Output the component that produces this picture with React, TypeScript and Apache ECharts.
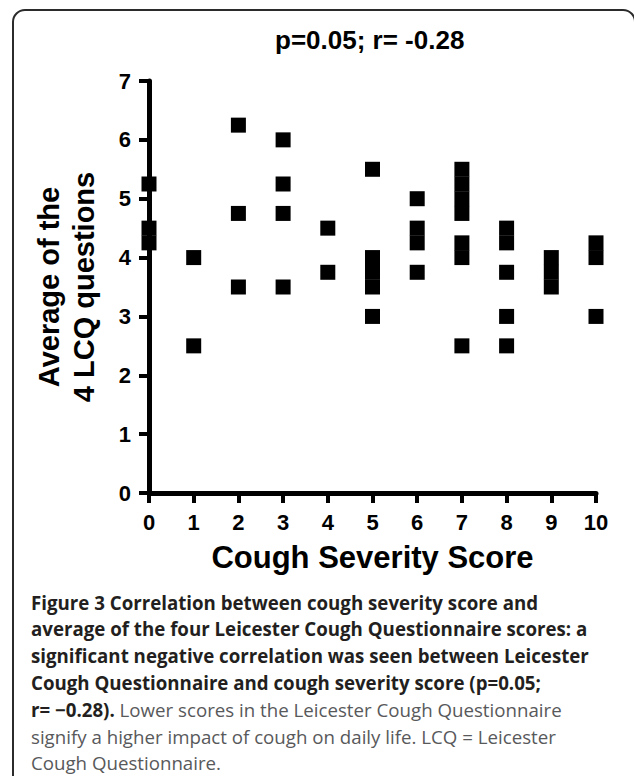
import React, { useEffect, useRef } from "react";
import * as echarts from "echarts";

// ---- data ----
const chartTitle = "p=0.05; r= -0.28";
const xAxisTitle = "Cough Severity Score";
const yAxisTitle = "Average of the\n4 LCQ questions";

const xMin = 0;
const xMax = 10;
const yMin = 0;
const yMax = 7;

// each point: cough severity score (x) and average of the 4 LCQ questions (y)
const severityScores = [
  0, 0, 0,
  1, 1,
  2, 2, 2,
  3, 3, 3, 3,
  4, 4,
  5, 5, 5, 5, 5,
  6, 6, 6, 6,
  7, 7, 7, 7, 7, 7, 7,
  8, 8, 8, 8, 8,
  9, 9, 9,
  10, 10, 10,
];
const lcqAverages = [
  5.25, 4.5, 4.25,
  4.0, 2.5,
  6.25, 4.75, 3.5,
  6.0, 5.25, 4.75, 3.5,
  4.5, 3.75,
  5.5, 4.0, 3.75, 3.5, 3.0,
  5.0, 4.5, 4.25, 3.75,
  5.5, 5.25, 5.0, 4.75, 4.25, 4.0, 2.5,
  4.5, 4.25, 3.75, 3.0, 2.5,
  4.0, 3.75, 3.5,
  4.25, 4.0, 3.0,
];

// caption lines: [bold part, regular part]
const captionLines: [string, string][] = [
  ["Figure 3 Correlation between cough severity score and", ""],
  ["average of the four Leicester Cough Questionnaire scores: a", ""],
  ["significant negative correlation was seen between Leicester", ""],
  ["Cough Questionnaire and cough severity score (p=0.05;", ""],
  ["r= \u22120.28).", " Lower scores in the Leicester Cough Questionnaire"],
  ["", "signify a higher impact of cough on daily life. LCQ = Leicester"],
  ["", "Cough Questionnaire."],
];

const ARIAL = "'Liberation Sans', Arial, Helvetica, sans-serif";
const CAPTION_FONT = "'Open Sans', 'Noto Sans', sans-serif";

export default function App() {
  const ref = useRef<HTMLDivElement>(null);

  useEffect(() => {
    if (!ref.current) return;
    const chart = echarts.init(ref.current, undefined, { renderer: "svg" });

    const points = severityScores.map((x, i) => [x, lcqAverages[i]]);

    const captionTop = 602;
    const captionStep = 26.8;
    const captionElements = captionLines.map(([b, r], i) => {
      let text = "";
      if (b) text += "{b|" + b + "}";
      if (r) text += "{r|" + r + "}";
      return {
        type: "text",
        x: 31,
        y: captionTop + i * captionStep,
        style: {
          text,
          verticalAlign: "middle",
          align: "left",
          rich: {
            b: {
              fontFamily: CAPTION_FONT,
              fontWeight: "bold",
              fontSize: 18.7,
              fill: "#231f20",
            },
            r: {
              fontFamily: CAPTION_FONT,
              fontWeight: "normal",
              fontSize: 18.7,
              fill: "#58595b",
            },
          },
        },
      };
    });

    const axisCommon = {
      type: "value",
      axisLine: { show: true, onZero: false, lineStyle: { color: "#000", width: 5 } },
      axisTick: { show: true, length: 10, lineStyle: { color: "#000", width: 4 } },
      axisLabel: {
        color: "#000",
        fontFamily: ARIAL,
        fontWeight: "bold",
        fontSize: 22,
      },
      splitLine: { show: false },
    };

    chart.setOption({
      animation: false,
      backgroundColor: "#ffffff",
      title: {
        text: chartTitle,
        left: 275,
        top: 27,
        padding: 0,
        textStyle: {
          fontFamily: ARIAL,
          fontWeight: "bold",
          fontSize: 26,
          color: "#000",
        },
      },
      grid: { left: 149, right: 38, top: 81, bottom: 283, containLabel: false },
      xAxis: {
        ...axisCommon,
        min: xMin,
        max: xMax,
        interval: 1,
        name: xAxisTitle,
        nameLocation: "middle",
        nameGap: 49,
        nameTextStyle: {
          fontFamily: ARIAL,
          fontWeight: "bold",
          fontSize: 31,
          color: "#000",
        },
        axisLabel: { ...axisCommon.axisLabel, margin: 18 },
      },
      yAxis: {
        ...axisCommon,
        min: yMin,
        max: yMax,
        interval: 1,
        name: yAxisTitle,
        nameLocation: "middle",
        nameRotate: 90,
        nameGap: 48,
        nameTextStyle: {
          fontFamily: ARIAL,
          fontWeight: "bold",
          fontSize: 29,
          lineHeight: 35,
          color: "#000",
        },
        axisLabel: { ...axisCommon.axisLabel, margin: 18 },
      },
      series: [
        {
          type: "scatter",
          data: points,
          symbol: "rect",
          symbolSize: 15,
          itemStyle: { color: "#000", opacity: 1 },
          emphasis: { disabled: true },
          clip: false,
          z: 1,
        },
      ],
      graphic: {
        elements: [
          {
            type: "rect",
            shape: { x: 13, y: 10, width: 622, height: 820, r: 12 },
            style: { fill: "none", stroke: "#2b2b2b", lineWidth: 2 },
            silent: true,
          },
          ...captionElements,
        ],
      },
    });

    return () => chart.dispose();
  }, []);

  return (
    <div
      ref={ref}
      style={{ position: "fixed", left: 0, top: 0, width: 634, height: 776 }}
    />
  );
}
